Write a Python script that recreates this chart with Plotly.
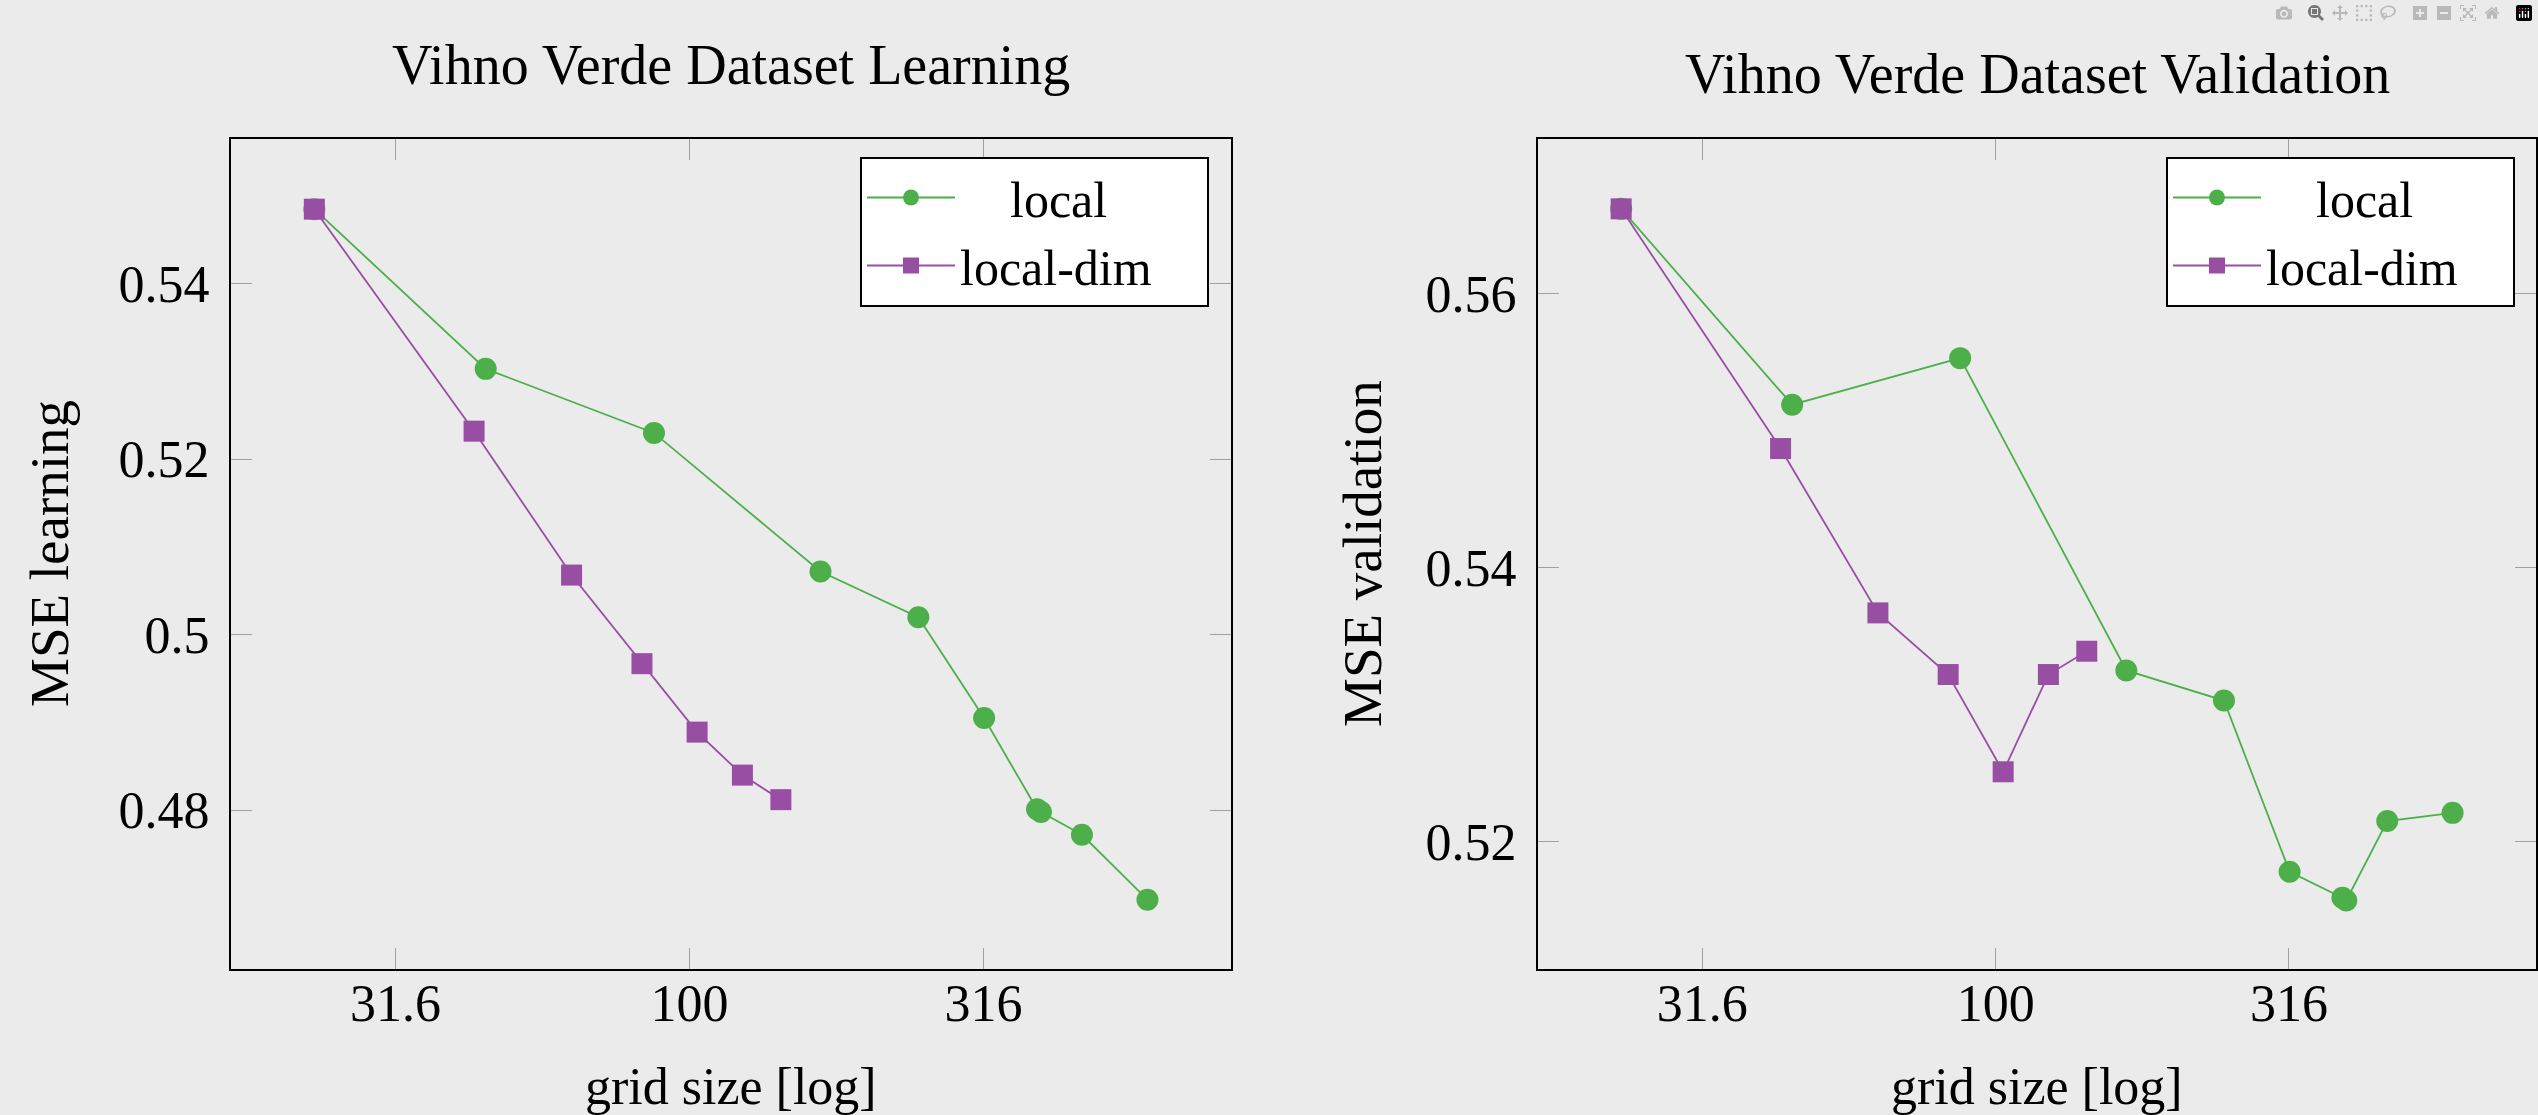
import plotly.graph_objects as go

# ---- data ----
x_local = [23, 45, 87, 167, 245, 317, 390, 396, 465, 601]
learn_local = [0.5485, 0.5303, 0.5230, 0.5072, 0.5020, 0.4905, 0.4801, 0.4798, 0.4772, 0.4698]
valid_local = [0.5662, 0.5519, 0.5553, 0.5325, 0.5303, 0.5178, 0.5159, 0.5157, 0.5215, 0.5221]

x_dim = [23, 43, 63, 83, 103, 123, 143]
learn_dim = [0.5485, 0.5232, 0.5068, 0.4967, 0.4889, 0.4840, 0.4812]
valid_dim = [0.5662, 0.5487, 0.5367, 0.5322, 0.5251, 0.5322, 0.5339]

x_tickvals = [10 ** 1.5, 100, 10 ** 2.5]
x_ticktext = ["31.6", "100", "316"]
y1_tickvals = [0.48, 0.5, 0.52, 0.54]
y1_ticktext = ["0.48", "0.5", "0.52", "0.54"]
y2_tickvals = [0.52, 0.54, 0.56]
y2_ticktext = ["0.52", "0.54", "0.56"]

titles = ["Vihno Verde Dataset Learning", "Vihno Verde Dataset Validation"]
ylabels = ["MSE learning", "MSE validation"]
xlabel = "grid size [log]"
names = ["local", "local-dim"]
NB = "\u00a0"
# legend labels: "local" is centred in its box as in the original
legend_names = [NB * 4 + names[0], names[1] + NB * 4]

GREEN = "#4DAF4A"
PURPLE = "#984EA3"
BG = "#EBEBEB"
FONT = "Liberation Serif"
W, H = 2538, 1115

fig = go.Figure()

def px_x(p):
    return p / W

def px_y(p):
    return 1 - p / H

for i, (yl, yd) in enumerate([(learn_local, learn_dim), (valid_local, valid_dim)]):
    xa = "x" if i == 0 else "x2"
    ya = "y" if i == 0 else "y2"
    lg = "legend" if i == 0 else "legend2"
    fig.add_trace(go.Scatter(
        x=x_local, y=yl, mode="lines+markers", name=legend_names[0],
        line=dict(color=GREEN, width=1.8),
        marker=dict(symbol="circle", size=22, color=GREEN),
        xaxis=xa, yaxis=ya, legend=lg))
    fig.add_trace(go.Scatter(
        x=x_dim, y=yd, mode="lines+markers", name=legend_names[1],
        line=dict(color=PURPLE, width=1.8),
        marker=dict(symbol="square", size=21, color=PURPLE),
        xaxis=xa, yaxis=ya, legend=lg))

common_axis = dict(
    showline=True, linecolor="black", linewidth=2, mirror="allticks",
    ticks="inside", ticklen=21, tickcolor="#a0a0a0", tickwidth=1.3,
    showgrid=False, zeroline=False,
    tickfont=dict(family=FONT, size=52, color="black"),
)

xdom1 = [px_x(231), px_x(1231)]
xdom2 = [px_x(1538), px_x(2536)]
ydom = [px_y(969), px_y(139)]

legend_common = dict(xanchor="right", yanchor="top",
                     bgcolor="white", bordercolor="black", borderwidth=2,
                     font=dict(family=FONT, size=50, color="black"),
                     itemwidth=88)

fig.update_layout(
    width=W, height=H,
    margin=dict(l=0, r=0, t=0, b=0),
    paper_bgcolor=BG, plot_bgcolor=BG,
    font=dict(family=FONT, size=52, color="black"),
    xaxis=dict(common_axis, type="log", range=[1.22, 2.921], domain=xdom1,
               tickvals=x_tickvals, ticktext=x_ticktext, anchor="y",
               ticklabelstandoff=-12),
    xaxis2=dict(common_axis, type="log", range=[1.22, 2.921], domain=xdom2,
                tickvals=x_tickvals, ticktext=x_ticktext, anchor="y2",
                ticklabelstandoff=-12),
    yaxis=dict(common_axis, range=[0.4619, 0.5565], domain=ydom,
               tickvals=y1_tickvals, ticktext=y1_ticktext, anchor="x",
               ticklabelstandoff=9),
    yaxis2=dict(common_axis, range=[0.5107, 0.5713], domain=ydom,
                tickvals=y2_tickvals, ticktext=y2_ticktext, anchor="x2",
                ticklabelstandoff=9),
    legend=dict(legend_common, x=px_x(1209), y=px_y(156.5)),
    legend2=dict(legend_common, x=px_x(2515), y=px_y(156.5)),
    showlegend=True,
)

ann_font = dict(family=FONT, size=52, color="black")
ylab_font = dict(family=FONT, size=55, color="black")
title_font = dict(family=FONT, size=56, color="black")
fig.add_annotation(text=titles[0], x=px_x(731), y=px_y(65), xref="paper", yref="paper",
                   xanchor="center", yanchor="middle", showarrow=False, font=title_font)
fig.add_annotation(text=titles[1], x=px_x(2037), y=px_y(74), xref="paper", yref="paper",
                   xanchor="center", yanchor="middle", showarrow=False, font=title_font)
fig.add_annotation(text=xlabel, x=px_x(731), y=px_y(1086), xref="paper", yref="paper",
                   xanchor="center", yanchor="middle", showarrow=False, font=ann_font)
fig.add_annotation(text=xlabel, x=px_x(2037), y=px_y(1086), xref="paper", yref="paper",
                   xanchor="center", yanchor="middle", showarrow=False, font=ann_font)
fig.add_annotation(text=ylabels[0], x=px_x(49), y=px_y(554), xref="paper", yref="paper",
                   xanchor="center", yanchor="middle", showarrow=False, font=ylab_font,
                   textangle=-90)
fig.add_annotation(text=ylabels[1], x=px_x(1362), y=px_y(554), xref="paper", yref="paper",
                   xanchor="center", yanchor="middle", showarrow=False, font=ylab_font,
                   textangle=-90)

fig.write_html("out.html", post_script="document.body.style.margin='0';")
